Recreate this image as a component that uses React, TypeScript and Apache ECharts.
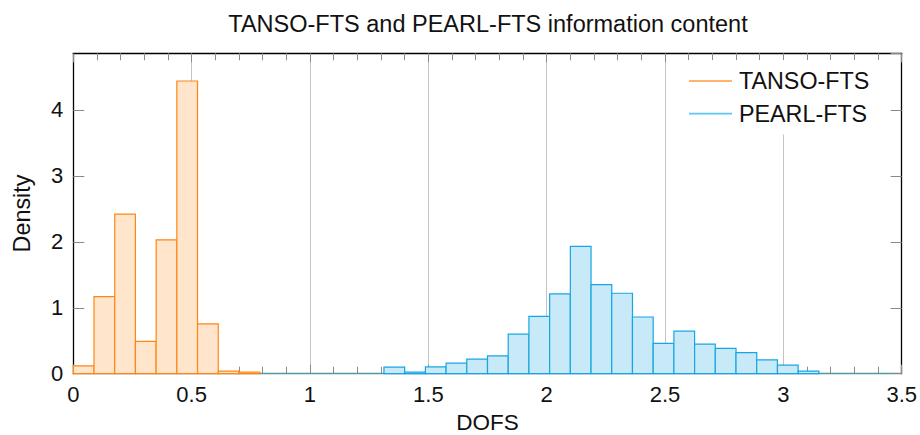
import React, { useEffect, useRef } from "react";
import * as echarts from "echarts";

const TITLE = "TANSO-FTS and PEARL-FTS information content";
const X_NAME = "DOFS";
const Y_NAME = "Density";
const SERIES_NAMES = ["TANSO-FTS", "PEARL-FTS"];

// histogram bins: 40 equal bins from 0 to 3.5
const BIN_MIN = 0;
const BIN_WIDTH = 0.0875;

const TANSO_DENSITY = [
  0.12, 1.17, 2.42, 0.49, 2.03, 4.44, 0.755, 0.04, 0.025, 0,
  0, 0, 0, 0, 0, 0, 0, 0, 0, 0,
  0, 0, 0, 0, 0, 0, 0, 0, 0, 0,
  0, 0, 0, 0, 0, 0, 0, 0, 0, 0,
];

const PEARL_DENSITY = [
  0, 0, 0, 0, 0, 0, 0, 0, 0, 0,
  0, 0, 0, 0, 0, 0.1, 0.025, 0.105, 0.16, 0.22,
  0.27, 0.6, 0.87, 1.21, 1.93, 1.35, 1.22, 0.86, 0.46, 0.645,
  0.45, 0.385, 0.32, 0.21, 0.13, 0.04, 0, 0, 0, 0,
];

const X_TICKS = [0, 0.5, 1, 1.5, 2, 2.5, 3, 3.5];
const Y_TICKS = [0, 1, 2, 3, 4];
const Y_MAX = 4.86;

const FONT = "'Liberation Sans', Arial, Helvetica, sans-serif";

function toBins(values: number[]) {
  return values.map((v, i) => [
    BIN_MIN + i * BIN_WIDTH,
    BIN_MIN + (i + 1) * BIN_WIDTH,
    v,
  ]);
}

function makeRender(fill: string, stroke: string) {
  return (params: any, api: any) => {
    const h = api.value(2);
    if (!(h > 0)) return null;
    const p0 = api.coord([api.value(0), h]);
    const p1 = api.coord([api.value(1), 0]);
    return {
      type: "rect",
      shape: { x: p0[0], y: p0[1], width: p1[0] - p0[0], height: p1[1] - p0[1] },
      style: { fill, stroke, lineWidth: 1.2 },
    };
  };
}

export default function App() {
  const ref = useRef<HTMLDivElement>(null);
  useEffect(() => {
    if (!ref.current) return;
    const chart = echarts.init(ref.current, null, { renderer: "svg" });
    const tickColor = "#8a8a8a";
    const xMin = X_TICKS[0];
    const xMax = X_TICKS[X_TICKS.length - 1];
    const xInterval = X_TICKS[1] - X_TICKS[0];
    const yInterval = Y_TICKS[1] - Y_TICKS[0];
    const baseX = {
      type: "value",
      min: xMin,
      max: xMax,
      interval: xInterval,
    };
    const baseY = {
      type: "value",
      min: Y_TICKS[0],
      max: Y_MAX,
      interval: yInterval,
    };
    chart.setOption({
      animation: false,
      backgroundColor: "#ffffff",
      textStyle: { fontFamily: FONT },
      title: {
        text: TITLE,
        left: 483,
        textAlign: "center",
        top: 7,
        textStyle: { fontSize: 23.5, fontWeight: "normal", color: "#111", fontFamily: FONT },
      },
      legend: {
        orient: "vertical",
        left: 681,
        top: 60,
        padding: [9, 20, 9, 8],
        backgroundColor: "#ffffff",
        itemWidth: 43,
        itemHeight: 1.6,
        itemGap: 8.6,
        icon: "rect",
        textStyle: { fontSize: 23.3, color: "#111", fontFamily: FONT, lineHeight: 24, padding: [0, 0, 0, 2] },
        data: [
          { name: SERIES_NAMES[0], itemStyle: { color: "#ff9a3c", borderWidth: 0 } },
          { name: SERIES_NAMES[1], itemStyle: { color: "#5cc8f2", borderWidth: 0 } },
        ],
      },
      grid: {
        left: 73.3,
        right: 18.3,
        top: 53.3,
        bottom: 61.3,
        containLabel: false,
        outerBoundsMode: "none",
        show: false,
      },
      xAxis: [
        {
          ...baseX,
          position: "bottom",
          name: X_NAME,
          nameLocation: "middle",
          nameGap: 39,
          nameTextStyle: { fontSize: 22.5, lineHeight: 18, color: "#111", fontFamily: FONT },
          axisLine: { show: true, onZero: false, lineStyle: { color: "#4f9a9c", width: 1.3 } },
          axisTick: { show: true, inside: true, length: 9, lineStyle: { color: tickColor, width: 1 } },
          minorTick: { show: true, splitNumber: 5, length: 7, lineStyle: { color: tickColor, width: 1 } },
          splitLine: { show: true, lineStyle: { color: "#c4c4c4", width: 1 } },
          axisLabel: { fontSize: 22, color: "#111", margin: 10, fontFamily: FONT },
        },
        {
          ...baseX,
          position: "top",
          axisLine: { show: true, onZero: false, lineStyle: { color: "#000", width: 1.3 } },
          axisTick: { show: true, inside: true, length: 9, lineStyle: { color: tickColor, width: 1 } },
          minorTick: { show: true, splitNumber: 5, length: 7, lineStyle: { color: tickColor, width: 1 } },
          splitLine: { show: false },
          axisLabel: { show: false },
        },
      ],
      yAxis: [
        {
          ...baseY,
          position: "left",
          name: Y_NAME,
          nameLocation: "middle",
          nameGap: 40,
          nameTextStyle: { fontSize: 23.4, color: "#111", fontFamily: FONT },
          axisLine: { show: true, onZero: false, lineStyle: { color: "#000", width: 1.3 } },
          axisTick: { show: true, inside: true, length: 11, lineStyle: { color: tickColor, width: 1 } },
          splitLine: { show: false },
          axisLabel: { fontSize: 22, color: "#111", margin: 10, showMaxLabel: false, fontFamily: FONT },
        },
        {
          ...baseY,
          position: "right",
          axisLine: { show: true, onZero: false, lineStyle: { color: "#000", width: 1.3 } },
          axisTick: { show: true, inside: true, length: 11, lineStyle: { color: tickColor, width: 1 } },
          splitLine: { show: false },
          axisLabel: { show: false },
        },
      ],
      series: [
        {
          name: SERIES_NAMES[0],
          type: "custom",
          xAxisIndex: 0,
          yAxisIndex: 0,
          renderItem: makeRender("#fee5cc", "#ff8614"),
          encode: { x: [0, 1], y: 2 },
          data: toBins(TANSO_DENSITY),
          itemStyle: { color: "#ff8614" },
        },
        {
          name: SERIES_NAMES[1],
          type: "custom",
          xAxisIndex: 0,
          yAxisIndex: 0,
          renderItem: makeRender("#c8e9f8", "#18a6e2"),
          encode: { x: [0, 1], y: 2 },
          data: toBins(PEARL_DENSITY),
          itemStyle: { color: "#18a6e2" },
        },
      ],
    });
    return () => chart.dispose();
  }, []);
  return (
    <div
      ref={ref}
      style={{ position: "fixed", left: 0, top: 0, width: 920, height: 435 }}
    />
  );
}
